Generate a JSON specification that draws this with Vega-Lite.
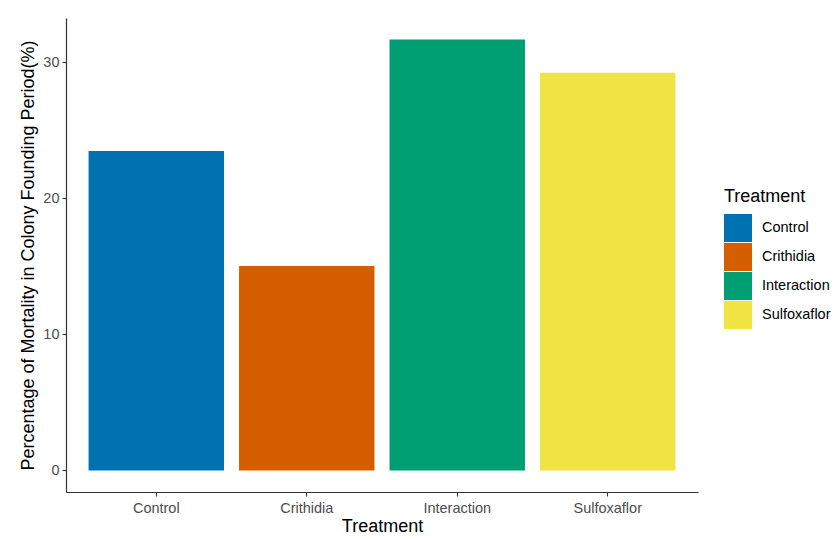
{
  "$schema": "https://vega.github.io/schema/vega-lite/v6.json",
  "width": 632,
  "height": 474,
  "autosize": {"type": "none"},
  "padding": {"left": 66, "top": 18, "right": 142, "bottom": 47},
  "background": "white",
  "data": {
    "values": [
      {"Treatment": "Control", "Mortality": 23.48},
      {"Treatment": "Crithidia", "Mortality": 15.02},
      {"Treatment": "Interaction", "Mortality": 31.67},
      {"Treatment": "Sulfoxaflor", "Mortality": 29.23}
    ]
  },
  "mark": {"type": "bar"},
  "encoding": {
    "x": {
      "field": "Treatment",
      "type": "nominal",
      "sort": null,
      "scale": {"paddingInner": 0.1, "paddingOuter": 0.15},
      "axis": {
        "title": "Treatment",
        "labelAngle": 0,
        "labelFontSize": 14.5,
        "labelColor": "#4D4D4D",
        "labelPadding": 5,
        "titleFontSize": 18,
        "titleFontWeight": "normal",
        "titleColor": "#000000",
        "titlePadding": 3
      }
    },
    "y": {
      "field": "Mortality",
      "type": "quantitative",
      "scale": {"domain": [-1.58, 33.25], "nice": false, "zero": false},
      "axis": {
        "title": "Percentage of Mortality in Colony Founding Period(%)",
        "values": [0, 10, 20, 30],
        "labelFontSize": 14.5,
        "labelColor": "#4D4D4D",
        "labelPadding": 3,
        "titleFontSize": 18,
        "titleFontWeight": "normal",
        "titleColor": "#000000",
        "titlePadding": 5
      }
    },
    "y2": {"datum": 0},
    "color": {
      "field": "Treatment",
      "type": "nominal",
      "sort": null,
      "scale": {
        "domain": ["Control", "Crithidia", "Interaction", "Sulfoxaflor"],
        "range": ["#0072B2", "#D55E00", "#009E73", "#F0E442"]
      },
      "legend": {
        "title": "Treatment",
        "orient": "none",
        "legendX": 658,
        "legendY": 170,
        "symbolType": "square",
        "symbolSize": 784,
        "symbolStrokeWidth": 0,
        "symbolOpacity": 1,
        "rowPadding": 1,
        "labelFontSize": 14.5,
        "labelColor": "#000000",
        "labelOffset": 10,
        "titleFontSize": 18,
        "titleFontWeight": "normal",
        "titleColor": "#000000",
        "titlePadding": 8
      }
    }
  },
  "config": {
    "font": "Liberation Sans",
    "view": {"stroke": null},
    "axis": {
      "grid": false,
      "domainColor": "#333333",
      "domainWidth": 1.2,
      "tickColor": "#333333",
      "tickSize": 4,
      "tickWidth": 1.1
    }
  }
}
